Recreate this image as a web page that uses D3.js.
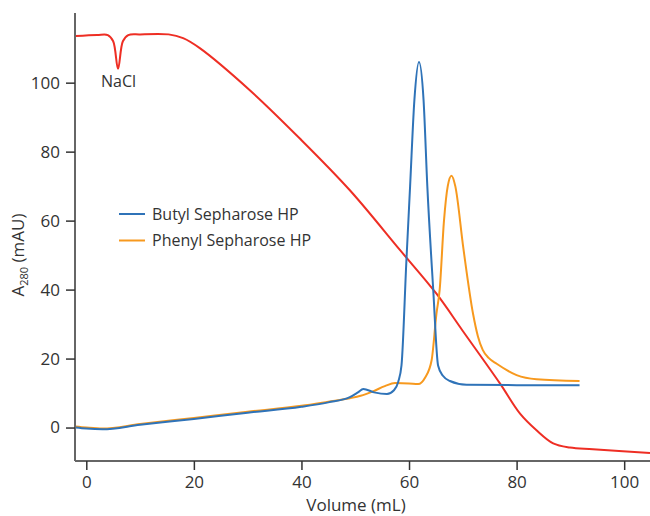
<!DOCTYPE html>
<html>
<head>
<meta charset="utf-8">
<script src="https://cdn.jsdelivr.net/npm/d3@7"></script>
<style>
  body { margin: 0; background: #fff; }
  svg text { font-family: "Open Sans", sans-serif; fill: #333; }
</style>
</head>
<body>
<div id="chart"></div>
<script>
// Volume (mL) / absorbance (mAU)
const butylVolume = [-2, 0, 3, 10, 20, 30, 40, 45, 49, 50.5, 51.5, 53.5, 55.9, 57.2, 58, 58.6, 59.5, 60.2, 61, 61.85, 62.7, 63.4, 64.5, 65.4, 66.3, 67.6, 70.7, 80, 91.7];
const butylValue  = [0, -0.3, -0.5, 0.8, 2.5, 4.3, 6, 7.3, 8.8, 10.2, 11.2, 10.2, 9.7, 10.8, 13.3, 18, 48, 70, 95, 106, 95, 70, 40, 18, 15, 13.5, 12.4, 12.3, 12.3];

const phenylVolume = [-2, 0, 3, 10, 20, 30, 40, 45, 49, 51, 53.3, 55.5, 57.4, 60, 61.7, 63, 64.2, 65.1, 65.7, 66.5, 67.2, 67.9, 68.6, 70.1, 71.9, 72.8, 73.7, 74.8, 76.3, 80, 83.7, 91.7];
const phenylValue  = [0.3, 0, -0.3, 1, 2.8, 4.6, 6.3, 7.5, 8.5, 9.2, 10.5, 12, 12.9, 12.8, 12.6, 14.5, 19.5, 33, 40, 60, 70, 73, 70, 52, 33, 26.5, 22.5, 20.2, 18.5, 15.2, 14, 13.5];

const naclVolume = [-2, 2, 4, 5, 5.9, 6.8, 7.8, 10, 15.3, 18, 21.1, 30.4, 39.7, 49, 58.3, 65.1, 70, 76.9, 80.6, 83.7, 86.8, 89.9, 94.2, 104.8];
const naclValue  = [113.5, 113.8, 113.8, 112, 104, 112, 113.8, 114, 114, 112.9, 110, 97.8, 83.8, 68.8, 51.5, 38.8, 28, 12.8, 4.1, -0.8, -4.6, -5.8, -6.3, -7.4];

const xTicks = [0, 20, 40, 60, 80, 100];
const yTicks = [0, 20, 40, 60, 80, 100];

const series = [
  { name: 'Butyl Sepharose HP', color: '#2f73b8', xs: butylVolume, ys: butylValue, legend: true, curve: d3.curveMonotoneX },
  { name: 'Phenyl Sepharose HP', color: '#f7991e', xs: phenylVolume, ys: phenylValue, legend: true, curve: d3.curveMonotoneX },
  { name: 'NaCl', color: '#ee2e24', xs: naclVolume, ys: naclValue, legend: false, curve: d3.curveCatmullRom.alpha(0.5) }
];

const W = 650, H = 516;
const margin = { left: 75, right: 0, top: 13, bottom: 55 };

const svg = d3.select('#chart').append('svg').attr('width', W).attr('height', H);

const x = d3.scaleLinear().domain([-2.1, 104.8]).range([margin.left, W - margin.right]);
const y = d3.scaleLinear().domain([-9.7, 120.2]).range([H - margin.bottom, margin.top]);

svg.append('clipPath').attr('id', 'plot')
  .append('rect')
  .attr('x', margin.left).attr('y', margin.top)
  .attr('width', W - margin.left - margin.right)
  .attr('height', H - margin.top - margin.bottom);

// draw NaCl first so the peaks sit on top
const order = [series[2], series[1], series[0]];
svg.append('g').attr('clip-path', 'url(#plot)')
  .selectAll('path')
  .data(order)
  .enter().append('path')
    .attr('d', s => d3.line()
        .x(d => x(d[0]))
        .y(d => y(d[1]))
        .curve(s.curve)(s.xs.map((v, i) => [v, s.ys[i]])))
    .attr('fill', 'none')
    .attr('stroke', s => s.color)
    .attr('stroke-width', 2);

// Axes
const axisColor = '#666';
const xAxis = svg.append('g')
  .attr('transform', 'translate(0,' + (H - margin.bottom) + ')')
  .call(d3.axisBottom(x).tickValues(xTicks).tickSize(9).tickPadding(6).tickFormat(d3.format('d')));
const yAxis = svg.append('g')
  .attr('transform', 'translate(' + margin.left + ',0)')
  .call(d3.axisLeft(y).tickValues(yTicks).tickSize(9).tickPadding(6).tickFormat(d3.format('d')));

[xAxis, yAxis].forEach(a => {
  a.select('.domain').attr('stroke', axisColor).attr('stroke-width', 2);
  a.selectAll('.tick line').attr('stroke', '#333').attr('stroke-width', 1.5);
  a.selectAll('.tick text').style('font-size', '17px').style('font-family', '"Open Sans", sans-serif').attr('fill', '#333');
});
// no outer ticks on the spines
xAxis.select('.domain').attr('d', 'M' + margin.left + ',0H' + W);
yAxis.select('.domain').attr('d', 'M0,' + margin.top + 'V' + (H - margin.bottom));

// Axis titles
svg.append('text')
  .attr('x', 356).attr('y', 511)
  .attr('text-anchor', 'middle')
  .style('font-size', '17px')
  .text('Volume (mL)');

const yTitle = svg.append('text')
  .attr('transform', 'translate(24,255) rotate(-90)')
  .attr('text-anchor', 'middle')
  .style('font-size', '17px');
yTitle.append('tspan').text('A');
yTitle.append('tspan').attr('dy', 4).style('font-size', '11px').text('280');
yTitle.append('tspan').attr('dy', -4).text(' (mAU)');

// NaCl marker label
svg.append('text')
  .attr('x', x(6)).attr('y', 87)
  .attr('text-anchor', 'middle')
  .style('font-size', '16px')
  .text('NaCl');

// Legend
const legend = svg.append('g').selectAll('g')
  .data(series.filter(s => s.legend))
  .enter().append('g')
    .attr('transform', (d, i) => 'translate(119,' + (214 + i * 26.5) + ')');
legend.append('line')
  .attr('x1', 0).attr('x2', 26)
  .attr('stroke', d => d.color).attr('stroke-width', 2);
legend.append('text')
  .attr('x', 33).attr('dy', '0.35em')
  .style('font-size', '16px')
  .text(d => d.name);
</script>
</body>
</html>
